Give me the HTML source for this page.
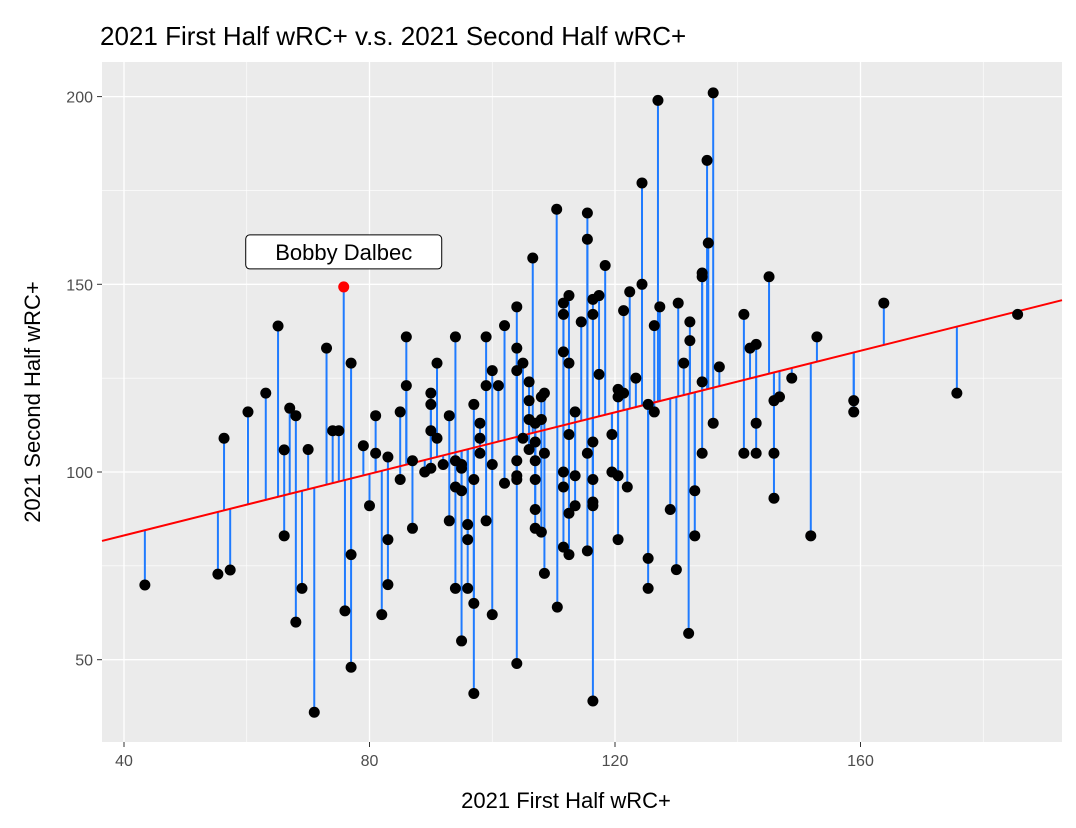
<!DOCTYPE html>
<html><head><meta charset="utf-8"><style>
html,body{margin:0;padding:0;background:#fff;}
svg{display:block;font-family:"Liberation Sans",Arial,sans-serif;}
</style></head><body>
<svg id="chart" width="1076" height="828">
<text x="100" y="45" font-size="26" fill="#000">2021 First Half wRC+ v.s. 2021 Second Half wRC+</text>
<rect x="102" y="62" width="960" height="680" fill="#ebebeb"/>
<g id="grid"></g><g id="segs"></g><g id="fit"></g><g id="pts"></g><g id="axes"></g><g id="ann"></g>
<text x="566" y="808" font-size="22" text-anchor="middle" fill="#000">2021 First Half wRC+</text>
<text transform="translate(40,402) rotate(-90)" font-size="22" text-anchor="middle" fill="#000">2021 Second Half wRC+</text>
</svg>
<script>
const xs=[43.4,55.3,57.3,56.3,60.2,63.1,65.1,66.1,66.1,67,68,68,69,70,71,73,74,75,76,77,77,77,79,80,81,81,82,83,83,83,85,85,86,86,87,87,89,90,90,90,90,91,91,92,93,93,94,94,94,94,95,95,95,95,96,96,96,97,97,97,97,98,98,98,99,99,99,100,100,100,101,102,102,104,104,104,104,104,104,104,105,105,106,106,106,106,107,107,107,107,107,107,106.6,108,108,108,108.5,108.5,108.5,110.6,110.5,111.6,111.6,111.6,111.6,111.6,111.6,112.5,112.5,112.5,112.5,112.5,113.5,113.5,113.5,114.5,115.5,115.5,116.4,116.4,116.4,116.4,116.4,116.4,116.4,115.5,115.5,117.4,117.4,118.4,119.5,119.5,120.5,120.5,121.4,120.5,120.5,122,122.4,121.4,123.4,124.4,124.4,125.4,125.4,125.4,126.4,126.4,127.3,127,129,130,130.3,131.2,132.2,132.2,132,133,133,134.2,134.2,134.2,134.2,135.2,135,136,136,137,141,141,142,143,143,143,145.1,145.9,145.9,145.9,146.8,148.8,151.9,152.9,158.9,158.9,163.8,175.7,185.6];
const ys=[69.9,72.8,73.9,109,116,121,138.9,105.9,83,117,115,60,69,106,36,133,111,111,63,129,78,48,107,91,115,105,62,104,82,70,116,98,136,123,103,85,100,121,118,111,101,109,129,102,115,87,136,103,96,69,102,101,95,55,86,82,69,118,98,65,41,113,109,105,136,123,87,127,102,62,123,139,97,144,133,127,103,99,98,49,129,109,124,119,114,106,113,108,103,98,90,85,157,120,114,84,121,105,73,64,170,145,142,132,100,96,80,129,110,89,78,147,116,99,91,140,105,79,146,142,108,98,92,91,39,169,162,126,147,155,110,100,122,99,121,120,82,96,148,143,125,177,150,118,69,77,116,139,144,199,90,74,145,129,140,135,57,83,95,153,152,124,105,161,183,201,113,128,142,105,133,134,113,105,152,119,105,93,120,125,83,136,119,116,145,121,142];
const xTicks=[40,80,120,160];
const yTicks=[50,100,150,200];
const xMinor=[60,100,140,180];
const yMinor=[75,125,175];
const fitIntercept=66.7, fitSlope=0.41;
const highlight={name:"Bobby Dalbec",x:75.8,y:149.3};

const X=v=>124+(v-40)*6.1375;
const Y=v=>472-(v-100)*3.754;
const NS="http://www.w3.org/2000/svg";
function mk(tag,attrs,parent){const e=document.createElementNS(NS,tag);for(const k in attrs)e.setAttribute(k,attrs[k]);document.getElementById(parent).appendChild(e);return e;}
xMinor.forEach(v=>{const e=mk('line',{x1:X(v),x2:X(v),y1:62,y2:742,stroke:'#fff','stroke-width':0.6},'grid');

});
yMinor.forEach(v=>{const e=mk('line',{x1:102,x2:1062,y1:Y(v),y2:Y(v),stroke:'#fff','stroke-width':0.6},'grid');

});
xTicks.forEach(v=>{const e=mk('line',{x1:X(v),x2:X(v),y1:62,y2:742,stroke:'#fff','stroke-width':1.3},'grid');


const t=mk('line',{x1:X(v),x2:X(v),y1:742,y2:747,stroke:'#333','stroke-width':1},'axes');


const l=mk('text',{x:X(v),y:766,'font-size':16,'text-anchor':'middle',fill:'#4d4d4d'},'axes');l.textContent=v;

});
yTicks.forEach(v=>{const e=mk('line',{x1:102,x2:1062,y1:Y(v),y2:Y(v),stroke:'#fff','stroke-width':1.3},'grid');


const t=mk('line',{x1:97,x2:102,y1:Y(v),y2:Y(v),stroke:'#333','stroke-width':1},'axes');


const l=mk('text',{x:93,y:Y(v)+6,'font-size':16,'text-anchor':'end',fill:'#4d4d4d'},'axes');l.textContent=v;

});
const fitY=x=>fitIntercept+fitSlope*x;
const all=xs.map((x,i)=>[x,ys[i]]);all.push([highlight.x,highlight.y]);
all.forEach(([x,y])=>{const s=mk('line',{x1:X(x),x2:X(x),y1:Y(y),y2:Y(fitY(x)),stroke:'#1f7bff','stroke-width':2},'segs');

});
const xa=(102-124)/6.1375+40, xb=(1062-124)/6.1375+40;
const f=mk('line',{x1:X(xa),x2:X(xb),y1:Y(fitY(xa)),y2:Y(fitY(xb)),stroke:'#ff0000','stroke-width':2},'fit');


xs.forEach((x,i)=>{const c=mk('circle',{cx:X(x),cy:Y(ys[i]),r:5.5,fill:'#000'},'pts');

});
const hc=mk('circle',{cx:X(highlight.x),cy:Y(highlight.y),r:5.5,fill:'#ff0000'},'pts');


const bx=X(highlight.x), by=Y(highlight.y)-35;
const r=mk('rect',{x:bx-98,y:by-17,width:196,height:34,rx:4,fill:'#fff',stroke:'#000','stroke-width':1},'ann');


const at=mk('text',{x:bx,y:by+8,'font-size':22,'text-anchor':'middle',fill:'#000'},'ann');at.textContent=highlight.name;


</script>
</body></html>
